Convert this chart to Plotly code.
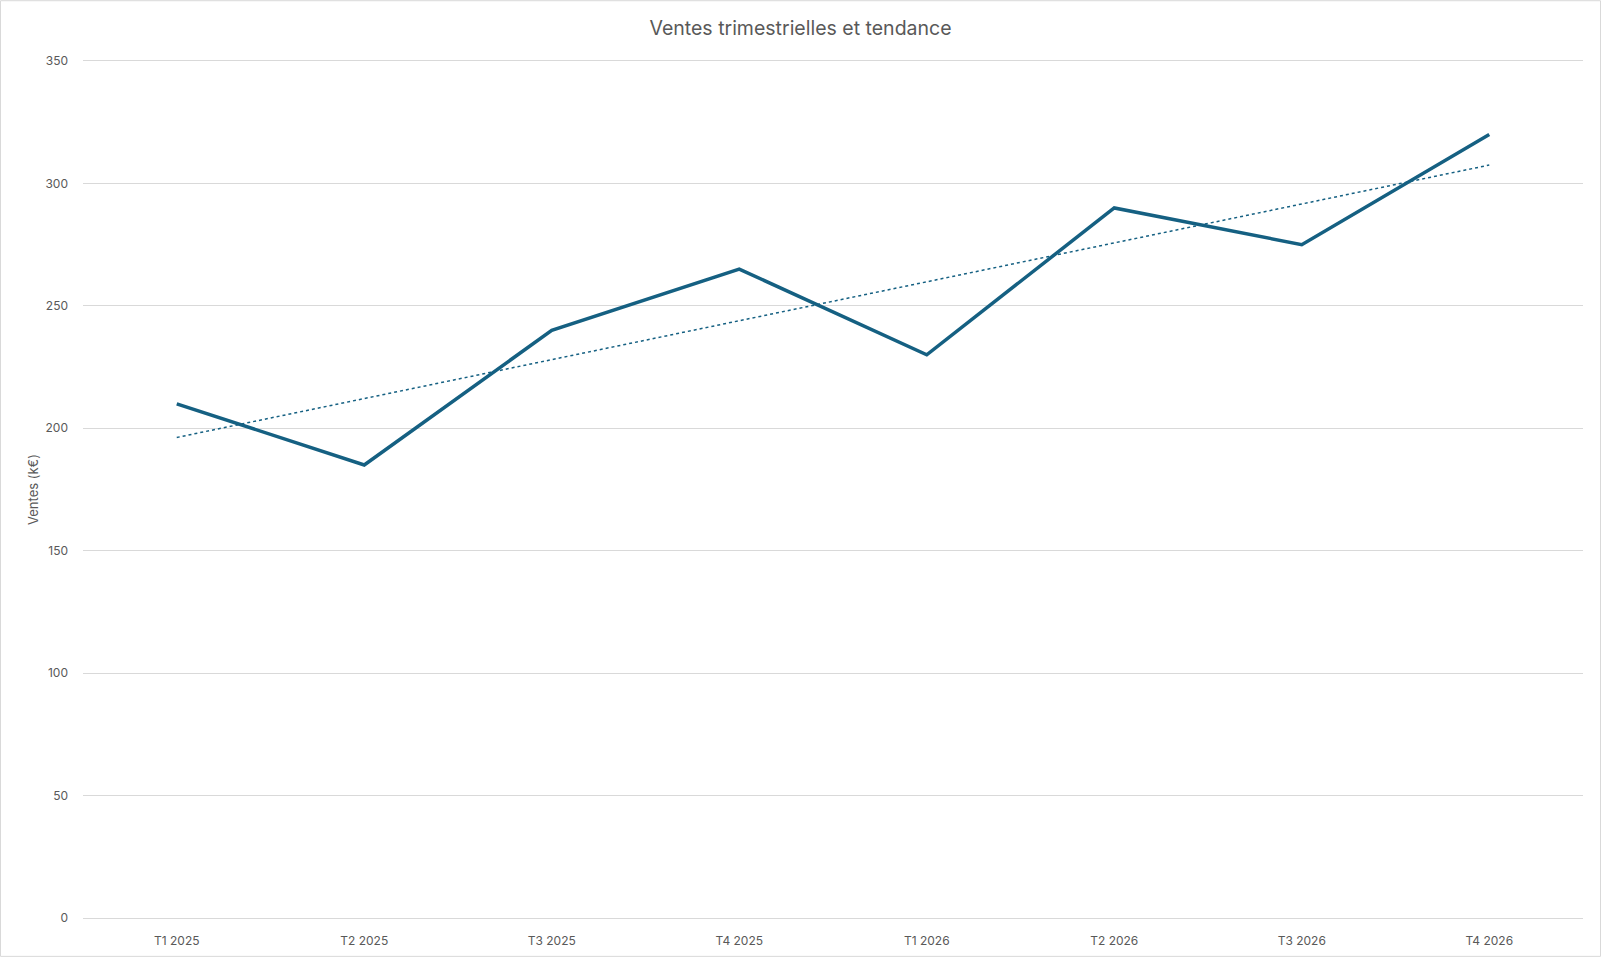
import numpy as np
import plotly.graph_objects as go

categories = ["T1 2025", "T2 2025", "T3 2025", "T4 2025", "T1 2026", "T2 2026", "T3 2026", "T4 2026"]
sales = [210, 185, 240, 265, 230, 290, 275, 320]
y_ticks = [0, 50, 100, 150, 200, 250, 300, 350]

title_text = "Ventes trimestrielles et tendance"
y_title = "Ventes (k€)"

# linear trend (least squares) over category index
idx = np.arange(len(sales))
slope, intercept = np.polyfit(idx, sales, 1)
trend = list(intercept + slope * idx)

W, H = 1601, 960
ML, MR, MT, MB = 83, 18, 61, 39
PW, PH = W - ML - MR, H - MT - MB

color = "#156082"
text_col = "#595959"
grid_col = "#d9d9d9"
font_fam = "Inter, 'Noto Sans', sans-serif"

fig = go.Figure()
fig.add_trace(go.Scatter(x=categories, y=sales, mode="lines",
                         line=dict(color=color, width=3.5), name="Ventes",
                         hoverinfo="x+y"))
fig.add_trace(go.Scatter(x=categories, y=trend, mode="lines",
                         line=dict(color=color, width=1.5, dash="dot"), name="Tendance"))

fig.update_layout(
    width=W, height=H,
    margin=dict(l=ML, r=MR, t=MT, b=MB, pad=0),
    paper_bgcolor="white", plot_bgcolor="white",
    showlegend=False,
    font=dict(family=font_fam, color=text_col, size=12),
    title=dict(text=title_text, x=0.5, xanchor="center", y=1 - 28 / H, yanchor="middle",
               font=dict(size=19.5, color=text_col, family=font_fam)),
    xaxis=dict(type="category", range=[-0.5, len(categories) - 0.5],
               showgrid=False, showline=True, mirror=True, linecolor=grid_col, linewidth=1,
               ticks="", tickfont=dict(size=12, color=text_col),
               ticklabelstandoff=12, zeroline=False),
    yaxis=dict(range=[0, 350], tickvals=y_ticks, showgrid=True, gridcolor=grid_col,
               gridwidth=1, zeroline=False, showline=False, ticks="",
               tickfont=dict(size=12, color=text_col), ticklabelstandoff=14,
               title=dict(text=y_title, font=dict(size=13, color=text_col), standoff=3)),
    shapes=[dict(type="rect", xref="paper", yref="paper",
                 x0=(0.5 - ML) / PW, x1=(W - 0.5 - ML) / PW,
                 y0=-(MB - 0.5) / PH, y1=1 + (MT - 0.5) / PH,
                 line=dict(color=grid_col, width=1), layer="below")],
)

fig.write_html("out.html")
